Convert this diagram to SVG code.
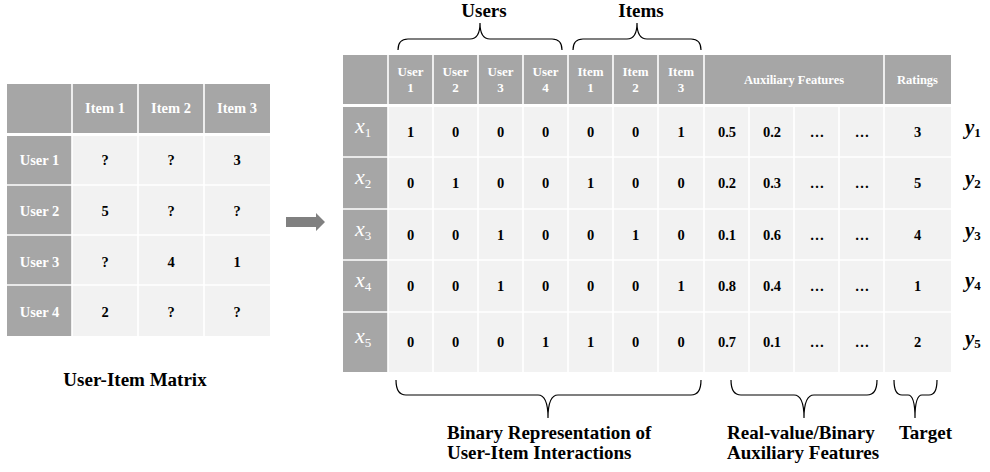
<svg xmlns="http://www.w3.org/2000/svg" width="990" height="472" viewBox="0 0 990 472">
<style>
text{font-family:"Liberation Serif","Times New Roman",serif;font-weight:bold;text-anchor:middle}
.g{fill:#a6a6a6}.l{fill:#f2f2f2}
.sep{stroke:#fff;stroke-width:1.6;fill:none}
.h{font-size:13px;fill:#fff}
.h2{font-size:12.5px;fill:#fff}
.v{font-size:14.5px;fill:#000}
.lh{font-size:14.5px;fill:#fff}
.lv{font-size:14.5px;fill:#000}
.big{font-size:19px;fill:#000}
.lt{text-anchor:start}
.mx{font-size:22px;font-style:italic;font-weight:normal;fill:#fff;text-anchor:start}
.my{font-size:21px;font-style:italic;fill:#000;text-anchor:start}
.sub{font-size:13px;font-style:normal}
.br{fill:none;stroke:#000;stroke-width:1.2}
</style>
<rect width="990" height="472" fill="#fff"/>

<g id="user-item-matrix">
<rect class="g" x="7" y="84" width="263" height="49"/>
<rect class="l" x="7" y="136" width="263" height="200"/>
<rect class="g" x="7" y="136" width="65" height="200"/>
<path class="sep" d="M72,84V133M138,84V133M204,84V133M72,136V336M138,136V336M204,136V336M7,185H270M7,235H270M7,285H270"/>
<text class="lh" x="105" y="113">Item 1</text>
<text class="lh" x="171" y="113">Item 2</text>
<text class="lh" x="237" y="113">Item 3</text>
<text class="lh" x="39.5" y="165">User 1</text>
<text class="lh" x="39.5" y="216">User 2</text>
<text class="lh" x="39.5" y="267">User 3</text>
<text class="lh" x="39.5" y="317">User 4</text>
<text class="lv" x="105" y="165">?</text><text class="lv" x="171" y="165">?</text><text class="lv" x="237" y="165">3</text>
<text class="lv" x="105" y="216">5</text><text class="lv" x="171" y="216">?</text><text class="lv" x="237" y="216">?</text>
<text class="lv" x="105" y="267">?</text><text class="lv" x="171" y="267">4</text><text class="lv" x="237" y="267">1</text>
<text class="lv" x="105" y="317">2</text><text class="lv" x="171" y="317">?</text><text class="lv" x="237" y="317">?</text>
<text class="big" x="135" y="386">User-Item Matrix</text>
</g>

<g id="connectors">
<path d="M286,217H316V213L325,222L316,231V227H286Z" fill="#808080"/>
</g>

<g id="feature-table">
<rect class="g" x="343" y="55" width="608" height="49"/>
<rect class="l" x="343" y="107" width="608" height="265"/>
<rect class="g" x="343" y="107" width="45" height="265"/>
<path class="sep" d="M388,55V104M433,55V104M478,55V104M523,55V104M568,55V104M613,55V104M658,55V104M704,55V104M884,55V104"/>
<path class="sep" d="M388,107V372M433,107V372M478,107V372M523,107V372M568,107V372M613,107V372M658,107V372M704,107V372M749,107V372M794,107V372M839,107V372M884,107V372M343,157H951M343,209H951M343,260H951M343,312H951"/>
<text class="h" x="410.5" y="76">User</text><text class="h" x="410.5" y="92">1</text>
<text class="h" x="455.5" y="76">User</text><text class="h" x="455.5" y="92">2</text>
<text class="h" x="500.5" y="76">User</text><text class="h" x="500.5" y="92">3</text>
<text class="h" x="545.5" y="76">User</text><text class="h" x="545.5" y="92">4</text>
<text class="h" x="590.5" y="76">Item</text><text class="h" x="590.5" y="92">1</text>
<text class="h" x="635.5" y="76">Item</text><text class="h" x="635.5" y="92">2</text>
<text class="h" x="681" y="76">Item</text><text class="h" x="681" y="92">3</text>
<text class="h2" x="794" y="84">Auxiliary Features</text>
<text class="h2" x="917.5" y="84">Ratings</text>

<text class="mx" x="355" y="133">x<tspan class="sub" dy="4">1</tspan></text>
<text class="mx" x="355" y="184">x<tspan class="sub" dy="4">2</tspan></text>
<text class="mx" x="355" y="235.5">x<tspan class="sub" dy="4">3</tspan></text>
<text class="mx" x="355" y="287">x<tspan class="sub" dy="4">4</tspan></text>
<text class="mx" x="355" y="343">x<tspan class="sub" dy="4">5</tspan></text>

<g>
<text class="v" x="410.5" y="137">1</text><text class="v" x="455.5" y="137">0</text><text class="v" x="500.5" y="137">0</text><text class="v" x="545.5" y="137">0</text><text class="v" x="590.5" y="137">0</text><text class="v" x="635.5" y="137">0</text><text class="v" x="681" y="137">1</text><text class="v" x="727" y="137">0.5</text><text class="v" x="772" y="137">0.2</text><text class="v" x="817" y="137">…</text><text class="v" x="862" y="137">…</text><text class="v" x="917.5" y="137">3</text>
<text class="v" x="410.5" y="188">0</text><text class="v" x="455.5" y="188">1</text><text class="v" x="500.5" y="188">0</text><text class="v" x="545.5" y="188">0</text><text class="v" x="590.5" y="188">1</text><text class="v" x="635.5" y="188">0</text><text class="v" x="681" y="188">0</text><text class="v" x="727" y="188">0.2</text><text class="v" x="772" y="188">0.3</text><text class="v" x="817" y="188">…</text><text class="v" x="862" y="188">…</text><text class="v" x="917.5" y="188">5</text>
<text class="v" x="410.5" y="239.5">0</text><text class="v" x="455.5" y="239.5">0</text><text class="v" x="500.5" y="239.5">1</text><text class="v" x="545.5" y="239.5">0</text><text class="v" x="590.5" y="239.5">0</text><text class="v" x="635.5" y="239.5">1</text><text class="v" x="681" y="239.5">0</text><text class="v" x="727" y="239.5">0.1</text><text class="v" x="772" y="239.5">0.6</text><text class="v" x="817" y="239.5">…</text><text class="v" x="862" y="239.5">…</text><text class="v" x="917.5" y="239.5">4</text>
<text class="v" x="410.5" y="291">0</text><text class="v" x="455.5" y="291">0</text><text class="v" x="500.5" y="291">1</text><text class="v" x="545.5" y="291">0</text><text class="v" x="590.5" y="291">0</text><text class="v" x="635.5" y="291">0</text><text class="v" x="681" y="291">1</text><text class="v" x="727" y="291">0.8</text><text class="v" x="772" y="291">0.4</text><text class="v" x="817" y="291">…</text><text class="v" x="862" y="291">…</text><text class="v" x="917.5" y="291">1</text>
<text class="v" x="410.5" y="347">0</text><text class="v" x="455.5" y="347">0</text><text class="v" x="500.5" y="347">0</text><text class="v" x="545.5" y="347">1</text><text class="v" x="590.5" y="347">1</text><text class="v" x="635.5" y="347">0</text><text class="v" x="681" y="347">0</text><text class="v" x="727" y="347">0.7</text><text class="v" x="772" y="347">0.1</text><text class="v" x="817" y="347">…</text><text class="v" x="862" y="347">…</text><text class="v" x="917.5" y="347">2</text>
</g>

<text class="my" x="965" y="134">y<tspan class="sub" dy="3">1</tspan></text>
<text class="my" x="965" y="185">y<tspan class="sub" dy="3">2</tspan></text>
<text class="my" x="965" y="237">y<tspan class="sub" dy="3">3</tspan></text>
<text class="my" x="965" y="287">y<tspan class="sub" dy="3">4</tspan></text>
<text class="my" x="965" y="345">y<tspan class="sub" dy="3">5</tspan></text>
</g>

<g id="brace-users">
<path class="br" d="M398,50Q398,39 408,39H470Q480,39 480,23Q480,39 490,39H552Q562,39 562,50"/>
<text class="big" x="484" y="17">Users</text>
</g>
<g id="brace-items">
<path class="br" d="M573,50Q573,39 583,39H627Q637,39 637,23Q637,39 647,39H691Q701,39 701,50"/>
<text class="big" x="641" y="17">Items</text>
</g>
<g id="brace-binary">
<path class="br" d="M396,380Q396,395 406,395H538Q548,395 548,418Q548,395 558,395H691Q701,395 701,380"/>
<text class="big lt" x="447" y="439">Binary Representation of</text>
<text class="big lt" x="447" y="459">User-Item Interactions</text>
</g>
<g id="brace-aux">
<path class="br" d="M731,380Q731,395 741,395H794Q804,395 804,418Q804,395 814,395H867Q877,395 877,380"/>
<text class="big lt" x="727" y="439">Real-value/Binary</text>
<text class="big lt" x="727" y="459">Auxiliary Features</text>
</g>
<g id="brace-target">
<path class="br" d="M894,380Q894,395 902,395H908Q915,395 915,418Q915,395 922,395H929Q937,395 937,380"/>
<text class="big" x="925.5" y="439">Target</text>
</g>
</svg>
